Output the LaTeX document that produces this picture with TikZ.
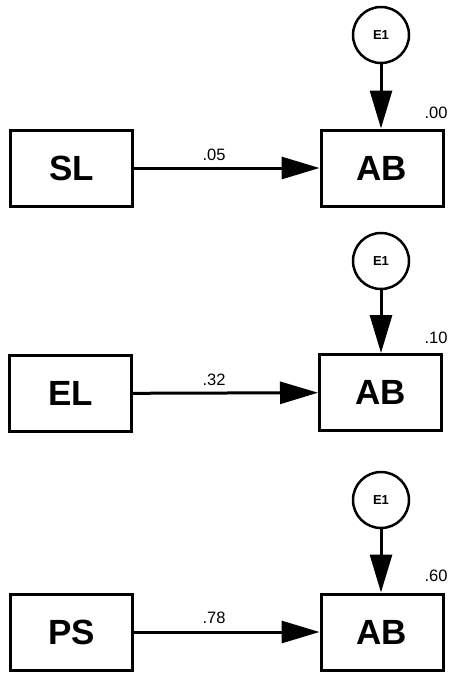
\documentclass[tikz,border=0pt]{standalone}
\usepackage{fontspec}
\setmainfont{Liberation Sans}
\usetikzlibrary{arrows.meta}
\begin{document}
\begin{tikzpicture}[x=1pt,y=-1pt,
  varbox/.style={draw=black,line width=3pt,minimum width=122pt,minimum height=76pt,inner sep=0pt,font=\fontsize{35}{35}\selectfont\bfseries},
  errc/.style={draw=black,circle,line width=2.5pt,minimum size=56pt,inner sep=0pt,font=\fontsize{13}{13}\selectfont\bfseries},
  path/.style={line width=3pt,-{Triangle[length=38pt,width=22pt]}},
  coef/.style={font=\fontsize{16.5}{16.5}\selectfont,inner sep=0pt}]
\useasboundingbox (0,0) rectangle (454,678);
% panel 1
\node[varbox] (sl) at (71.5,168) {SL};
\node[varbox] (ab1) at (382,168) {AB};
\node[errc] (e1a) at (381,35) {E1};
\draw[path] (sl) -- (ab1);
\draw[path] (e1a) -- (e1a |- ab1.north);
\node[coef] (c1) at (214,155) {.05};
\node[coef] (r1) at (436,113) {.00};
% panel 2
\node[varbox] (el) at (70.5,393.5) {EL};
\node[varbox] (ab2) at (380.5,392.5) {AB};
\node[errc] (e1b) at (381,261) {E1};
\draw[path] (el) -- (ab2);
\draw[path] (e1b) -- (e1b |- ab2.north);
\node[coef] (c2) at (214,380) {.32};
\node[coef] (r2) at (436,338) {.10};
% panel 3
\node[varbox] (ps) at (71.5,632) {PS};
\node[varbox] (ab3) at (382,632) {AB};
\node[errc] (e1c) at (381,500) {E1};
\draw[path] (ps) -- (ab3);
\draw[path] (e1c) -- (e1c |- ab3.north);
\node[coef] (c3) at (214,618) {.78};
\node[coef] (r3) at (436,576) {.60};
\end{tikzpicture}
\end{document}
